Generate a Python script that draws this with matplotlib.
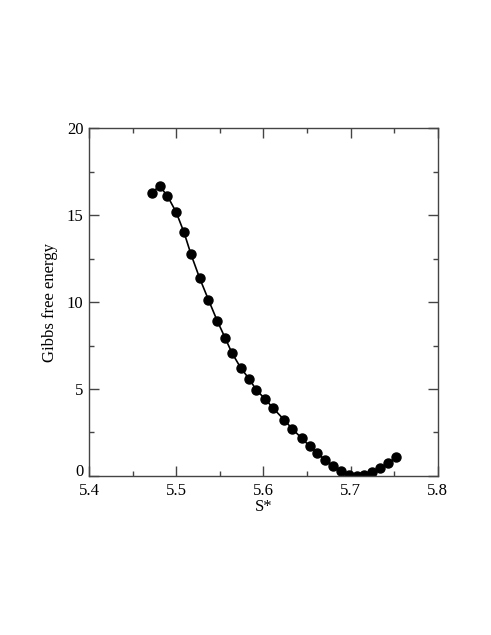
import matplotlib
matplotlib.use("Agg")
import matplotlib.pyplot as plt
from matplotlib.ticker import MultipleLocator, FuncFormatter

# values
s_star = [5.472, 5.481, 5.490, 5.500, 5.509, 5.517, 5.527, 5.537, 5.547, 5.556,
          5.564, 5.574, 5.584, 5.592, 5.602, 5.611, 5.624, 5.633, 5.644, 5.653,
          5.662, 5.671, 5.680, 5.689, 5.698, 5.707, 5.716, 5.725, 5.734, 5.743,
          5.752]
gibbs = [16.28, 16.67, 16.09, 15.16, 14.00, 12.74, 11.36, 10.13, 8.93, 7.95,
         7.07, 6.22, 5.56, 4.94, 4.43, 3.91, 3.22, 2.72, 2.17, 1.72,
         1.30, 0.92, 0.57, 0.27, 0.07, 0.00, 0.07, 0.23, 0.46, 0.73,
         1.07]

plt.rcParams['font.family'] = ['Liberation Serif', 'DejaVu Serif']
plt.rcParams['font.size'] = 12

fig = plt.figure(figsize=(4.91, 6.35), dpi=100)
ax = fig.add_axes([0.1813, 0.2504, 0.7101, 0.548])

ax.plot(s_star, gibbs, color='black', linewidth=1.2, marker='o',
        markersize=6.5, markerfacecolor='black', markeredgecolor='black')

ax.set_xlim(5.4, 5.8)
ax.set_ylim(0, 20)
ax.xaxis.set_major_locator(MultipleLocator(0.1))
ax.xaxis.set_minor_locator(MultipleLocator(0.05))
ax.yaxis.set_major_locator(MultipleLocator(5))
ax.yaxis.set_minor_locator(MultipleLocator(2.5))
# the "0" label is drawn by hand below, a bit higher, so it clears "5.4"
ax.yaxis.set_major_formatter(FuncFormatter(lambda v, p: '' if v == 0 else '%g' % v))
ax.tick_params(which='both', direction='in', top=True, right=True,
               color='#444444', width=1)
ax.tick_params(which='major', length=7.5, pad=4)
ax.tick_params(axis='x', which='major', pad=5)
ax.tick_params(which='minor', length=3.6)
for sp in ax.spines.values():
    sp.set_linewidth(1)
    sp.set_color('#444444')

ax.annotate('0', xy=(0, 0), xycoords='axes fraction', xytext=(-4, 3),
            textcoords='offset points', ha='right', va='center')

ax.set_xlabel('S*', labelpad=0)
ax.set_ylabel('Gibbs free energy', labelpad=6)

fig.savefig('out.png', dpi=100)
